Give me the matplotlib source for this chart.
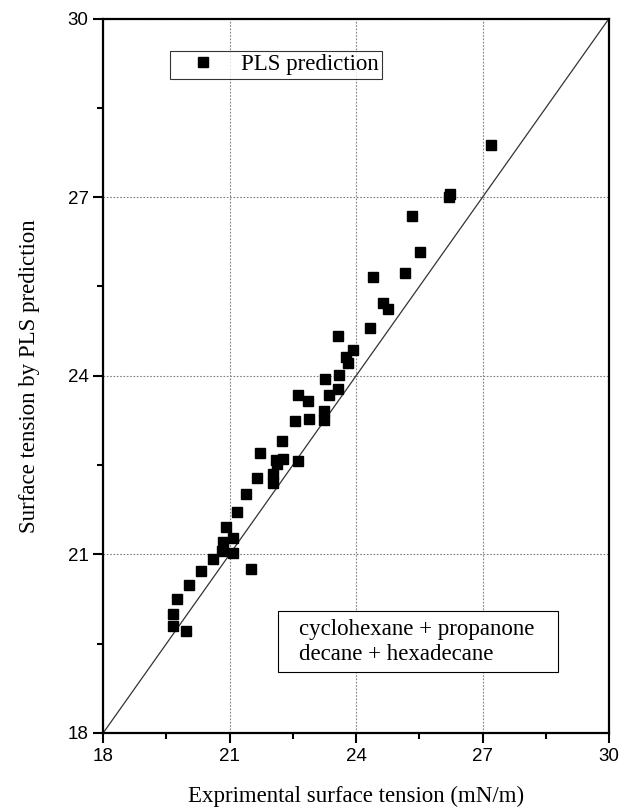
import numpy as np
import matplotlib.pyplot as plt
from matplotlib.patches import Rectangle
from matplotlib.ticker import MultipleLocator

# experimental vs PLS predicted surface tension (mN/m)
exp_st = [27.21, 26.20, 26.22, 25.32, 25.51, 24.40, 25.16, 24.65, 24.76, 24.33,
          23.58, 23.93, 23.76, 23.81, 23.60, 23.27, 23.58, 23.36, 22.63, 22.87,
          23.25, 23.24, 22.89, 22.56, 22.25, 21.71, 22.27, 22.11, 22.13, 22.62,
          22.03, 22.03, 21.64, 21.38, 21.17, 20.91, 20.84, 21.07, 20.81, 21.09,
          20.60, 20.32, 21.50, 20.03, 19.75, 19.65, 19.65, 19.96]
pls_st = [27.88, 27.00, 27.06, 26.69, 26.08, 25.66, 25.73, 25.22, 25.12, 24.81,
          24.66, 24.44, 24.32, 24.22, 24.02, 23.95, 23.78, 23.68, 23.68, 23.58,
          23.40, 23.26, 23.28, 23.24, 22.91, 22.71, 22.61, 22.59, 22.52, 22.57,
          22.35, 22.20, 22.29, 22.02, 21.72, 21.46, 21.21, 21.28, 21.06, 21.03,
          20.92, 20.72, 20.76, 20.49, 20.25, 20.00, 19.80, 19.71]

diag = [18, 30]
ticks = [18, 21, 24, 27, 30]

plt.rcParams['font.family'] = 'Liberation Sans'
plt.rcParams['xtick.major.width'] = 1.5
plt.rcParams['ytick.major.width'] = 1.5
plt.rcParams['xtick.minor.width'] = 1.5
plt.rcParams['ytick.minor.width'] = 1.5

fig = plt.figure(figsize=(6.37, 8.09), dpi=100)
ax = fig.add_axes([0.162, 0.094, 0.794, 0.883])

ax.grid(True, color='gray', linestyle=(0, (1.5, 1.5)), linewidth=0.8)
ax.set_axisbelow(True)
ax.plot(diag, diag, color='#333333', lw=0.9)
ax.plot(exp_st, pls_st, 's', color='black', ms=7.5, label='PLS prediction')

ax.set_xlim(18, 30)
ax.set_ylim(18, 30)
ax.set_xticks(ticks)
ax.set_yticks(ticks)
ax.xaxis.set_minor_locator(MultipleLocator(1.5))
ax.yaxis.set_minor_locator(MultipleLocator(1.5))
ax.tick_params(which='major', length=7, labelsize=13.5, direction='out')
ax.tick_params(which='minor', length=4.5, direction='out')
for s in ax.spines.values():
    s.set_linewidth(1.6)

ax.set_xlabel('Exprimental surface tension (mN/m)', family='Liberation Serif',
              fontsize=16.5, labelpad=15)
ax.set_ylabel('Surface tension by PLS prediction', family='Liberation Serif',
              fontsize=16.5, labelpad=20)

leg = ax.legend(loc='upper left', bbox_to_anchor=(0.132, 0.955), frameon=True,
                fancybox=False, edgecolor='black', borderpad=0.15,
                handlelength=2.56, handletextpad=0.38, borderaxespad=0,
                prop={'family': 'Liberation Serif', 'size': 16.5})
leg.get_frame().set_linewidth(0.8)

ax.add_patch(Rectangle((0.346, 0.0854), 0.553, 0.0856, transform=ax.transAxes,
                       fc='white', ec='black', lw=0.8, zorder=4))
ax.text(0.387, 0.127, 'cyclohexane + propanone\ndecane + hexadecane',
        transform=ax.transAxes, family='Liberation Serif', fontsize=16.5,
        linespacing=1.25, va='center', ha='left', zorder=5)

fig.savefig('out.png', dpi=100)
